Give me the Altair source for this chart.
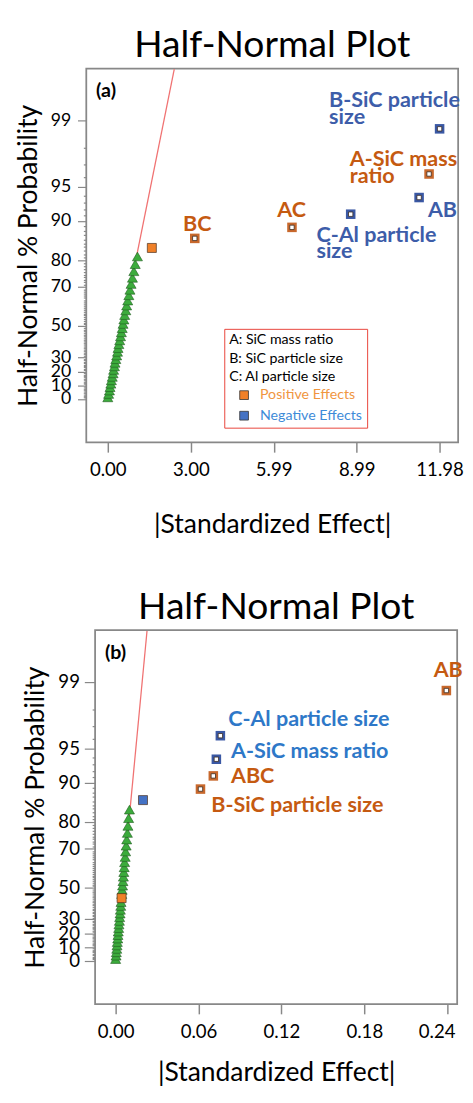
import altair as alt
import pandas as pd
from statistics import NormalDist

_nd = NormalDist()


def half_normal_z(percent):
    """Half-normal probability (in %) -> position on the half-normal probability axis."""
    return _nd.inv_cdf(0.5 + percent / 200.0)


FONT = "Lato"

# ---------------- panel (a) data ----------------
a_err_x = [0.00, 0.03, 0.06, 0.08, 0.11, 0.13, 0.16, 0.19, 0.21, 0.24, 0.26,
           0.29, 0.32, 0.35, 0.37, 0.40, 0.43, 0.46, 0.49, 0.52, 0.55, 0.58,
           0.61, 0.65, 0.68, 0.72, 0.76, 0.80, 0.84, 0.89, 0.94, 0.99, 1.07]
a_err_p = [1.25, 3.75, 6.25, 8.75, 11.25, 13.75, 16.25, 18.75, 21.25, 23.75, 26.25,
           28.75, 31.25, 33.75, 36.25, 38.75, 41.25, 43.75, 46.25, 48.75, 51.25, 53.75,
           56.25, 58.75, 61.25, 63.75, 66.25, 68.75, 71.25, 73.75, 76.25, 78.75, 81.25]
a_small_x = [1.59]
a_small_p = [83.75]
a_small_sign = ["Positive Effects"]
a_terms = ["BC", "AC", "C", "AB", "A", "B"]
a_terms_x = [3.14, 6.65, 8.77, 11.24, 11.60, 11.98]
a_terms_p = [86.25, 88.75, 91.25, 93.75, 96.25, 98.75]
a_terms_sign = ["Positive Effects", "Positive Effects", "Negative Effects",
                "Negative Effects", "Positive Effects", "Negative Effects"]
a_terms_label = ["BC", "AC", "C-Al particle\nsize", "AB", "A-SiC mass\nratio", "B-SiC particle\nsize"]
a_line_x = [0.0, 2.40]
a_line_p = [0.0, 99.77]
a_x_ticks = [0.00, 3.00, 5.99, 8.99, 11.98]

# ---------------- panel (b) data ----------------
b_err_x = [0.0000, 0.0003, 0.0005, 0.0008, 0.0010, 0.0012, 0.0015, 0.0017, 0.0019,
           0.0022, 0.0024, 0.0027, 0.0029, 0.0032, 0.0034, 0.0037, 0.0039,
           0.0044, 0.0047, 0.0050, 0.0053, 0.0056, 0.0059, 0.0062, 0.0065,
           0.0069, 0.0072, 0.0076, 0.0080, 0.0085, 0.0089, 0.0094, 0.0100]
b_err_p = [1.25, 3.75, 6.25, 8.75, 11.25, 13.75, 16.25, 18.75, 21.25,
           23.75, 26.25, 28.75, 31.25, 33.75, 36.25, 38.75, 41.25,
           46.25, 48.75, 51.25, 53.75, 56.25, 58.75, 61.25, 63.75,
           66.25, 68.75, 71.25, 73.75, 76.25, 78.75, 81.25, 83.75]
b_small_x = [0.0043, 0.0198]
b_small_p = [43.75, 86.25]
b_small_sign = ["Positive Effects", "Negative Effects"]
b_terms = ["B", "ABC", "A", "C", "AB"]
b_terms_x = [0.0614, 0.0707, 0.0729, 0.0758, 0.2394]
b_terms_p = [88.75, 91.25, 93.75, 96.25, 98.75]
b_terms_sign = ["Positive Effects", "Positive Effects", "Negative Effects",
                "Negative Effects", "Positive Effects"]
b_terms_label = ["B-SiC particle size", "ABC", "A-SiC mass ratio", "C-Al particle size", "AB"]
b_line_x = [0.0, 0.0227]
b_line_p = [0.0, 99.77]
b_x_ticks = [0.00, 0.06, 0.12, 0.18, 0.24]

# ---------------- shared axis / legend texts ----------------
y_major = [0, 10, 20, 30, 50, 70, 80, 90, 95, 99]
y_minor = list(range(0, 100))
legend_title = ["A: SiC mass ratio",
                "B: SiC particle size" + "\u00a0" * 15,
                "C: Al particle size"]
signs = ["Positive Effects", "Negative Effects"]

# ---------------- styles ----------------
RED = "#f07272"
GREEN = "#3cab3c"
GREEN_EDGE = "#1d5a1d"
FILL_COLORS = ["#f08028", "#4472c4"]
OPEN_COLORS = ["#c8682c", "#3a58a4"]
TEXT_OR = "#c55a11"
FRAME = "#888888"

a_label_off = {"BC": (-12, -8), "AC": (-15, -11), "C": (-35, 28), "AB": (9, 20),
               "A": (-81, -8), "B": (-113, -22)}
b_label_off = {"B": (11, 23), "ABC": (18, 7), "A": (15, -1), "C": (8, -10), "AB": (-13, -14)}

P_EXPR = "round(200*cumulativeNormal(datum.value)-100)"
TICK_TEST = "(" + " || ".join(f"{P_EXPR} == {v}" for v in y_major) + ")"


def panel(tag, err_x, err_p, small_x, small_p, small_sign, terms, terms_x, terms_p,
          terms_sign, terms_label, line_x, line_p, x_ticks, x_domain, width,
          label_off, blue_text, legend_xy, ystyle, x_title_pad, x_flush):
    y_label_size, major_tick, y_label_pad, y_title_pad = ystyle
    y_enc = alt.Y(
        "z:Q",
        scale=alt.Scale(domain=[-0.40, 3.055], nice=False, zero=False),
        axis=alt.Axis(
            title="Half-Normal % Probability", values=[half_normal_z(v) for v in y_minor],
            labelExpr=TICK_TEST + " ? '' + " + P_EXPR + " : ''",
            tickSize={"condition": {"test": TICK_TEST, "value": major_tick}, "value": 3},
            tickColor=FRAME, tickWidth=1.2, domain=False, grid=False,
            labelOverlap=False, labelBound=False, labelFlush=False,
            labelFont=FONT, labelFontSize=y_label_size, labelColor="black",
            labelPadding=y_label_pad,
            titleFont=FONT, titleFontSize=27, titleFontWeight="normal", titleColor="black",
            titlePadding=y_title_pad,
        ),
    )
    x_enc = alt.X(
        "x:Q",
        scale=alt.Scale(domain=x_domain, nice=False, zero=False),
        axis=alt.Axis(
            title="|Standardized Effect|", values=x_ticks, format=".2f",
            tickSize=10, tickColor=FRAME, tickWidth=1.5, domain=False, grid=False,
            labelFlush=x_flush, labelFlushOffset=8, labelOverlap=False,
            labelFont=FONT, labelFontSize=19, labelColor="black", labelPadding=9,
            titleFont=FONT, titleFontSize=27, titleFontWeight="normal", titleColor="black",
            titlePadding=x_title_pad,
        ),
    )

    line_df = pd.DataFrame({"x": line_x, "z": [half_normal_z(p) for p in line_p]})
    err_df = pd.DataFrame({"x": err_x, "z": [half_normal_z(p) for p in err_p]})
    small_df = pd.DataFrame({"x": small_x, "z": [half_normal_z(p) for p in small_p],
                             "sign": small_sign})
    term_df = pd.DataFrame({"term": terms, "x": terms_x,
                            "z": [half_normal_z(p) for p in terms_p],
                            "sign": terms_sign, "label": terms_label})

    line = alt.Chart(line_df).mark_line(color=RED, strokeWidth=1.3).encode(x=x_enc, y=y_enc)
    tri = alt.Chart(err_df).mark_point(
        shape="triangle-up", filled=True, fill=GREEN, stroke=GREEN_EDGE, strokeWidth=0.6,
        size=105, opacity=1,
    ).encode(x=x_enc, y=y_enc)
    small = alt.Chart(small_df).mark_square(
        size=85, stroke="#4a3020", strokeWidth=0.7, opacity=1,
    ).encode(
        x=x_enc, y=y_enc,
        color=alt.Color(
            "sign:N", scale=alt.Scale(domain=signs, range=FILL_COLORS),
            legend=alt.Legend(
                title=legend_title, orient="none", legendX=legend_xy[0], legendY=legend_xy[1],
                strokeColor="#e8443a", fillColor="white", padding=5,
                titleFont=FONT, titleFontSize=14.5, titleFontWeight="normal", titleColor="black",
                titleLineHeight=18.5, titlePadding=4, titleLimit=400,
                labelFont=FONT, labelFontSize=14.5, labelOffset=9,
                labelColor=alt.ExprRef("datum.value == 'Positive Effects' ? '#f0963f' : '#3e8bd8'"),
                symbolType="square", symbolSize=80, symbolStrokeColor="#333333",
                symbolStrokeWidth=0.8, symbolOffset=8, rowPadding=6,
            ),
        ),
    )
    outer = alt.Chart(term_df).mark_square(size=95, opacity=1).encode(
        x=x_enc, y=y_enc,
        fill=alt.Fill("sign:N", scale=alt.Scale(domain=signs, range=OPEN_COLORS), legend=None),
    )
    inner = alt.Chart(term_df).mark_square(
        size=20, fill="white", stroke="#3a2a20", strokeWidth=0.8, opacity=1,
    ).encode(x=x_enc, y=y_enc)

    layers = [line, tri, small, outer, inner]
    for t, s in zip(terms, terms_sign):
        dx, dy = label_off[t]
        layers.append(
            alt.Chart(term_df).transform_filter(alt.datum.term == t).mark_text(
                align="left", baseline="alphabetic", dx=dx, dy=dy, font=FONT,
                fontWeight="bold", fontSize=22, lineHeight=17, lineBreak="\n",
                color=TEXT_OR if s == "Positive Effects" else blue_text,
            ).encode(x=x_enc, y=y_enc, text="label:N")
        )
    layers.append(
        alt.Chart(pd.DataFrame({"t": [tag]})).mark_text(
            align="left", baseline="alphabetic", font=FONT, fontWeight="bold",
            fontSize=20, color="black",
        ).encode(x=alt.value(10), y=alt.value(29), text="t:N")
    )
    return alt.layer(*layers).properties(
        width=width, height=382,
        view=alt.ViewBackground(stroke=FRAME, strokeWidth=1.8),
        title=alt.TitleParams(
            "Half-Normal Plot", font=FONT, fontSize=38, fontWeight="normal", color="black",
            anchor="middle", frame="group", offset=2,
        ),
    )


def spacer():
    # invisible 1px cell used only to set the left inset of a panel
    return alt.Chart(pd.DataFrame({"v": [0]})).mark_point(size=0, opacity=0).encode(
        x=alt.value(0), y=alt.value(0)
    ).properties(width=1, height=1, view=alt.ViewBackground(stroke="transparent"))


pa = panel("(a)", a_err_x, a_err_p, a_small_x, a_small_p, a_small_sign, a_terms, a_terms_x,
           a_terms_p, a_terms_sign, a_terms_label, a_line_x, a_line_p, a_x_ticks,
           [-0.777, 12.65], 380, a_label_off, "#3d5da9", (220, 266),
           (18, 9, 7, 8), 33, False)
pb = panel("(b)", b_err_x, b_err_p, b_small_x, b_small_p, b_small_sign, b_terms, b_terms_x,
           b_terms_p, b_terms_sign, b_terms_label, b_line_x, b_line_p, b_x_ticks,
           [-0.01488, 0.24722], 370, b_label_off, "#2e78c8", (221, 266),
           (19, 11, 5, 9), 19, 15)

row_a = alt.HConcatChart(hconcat=[spacer(), pa], spacing=3)
row_b = alt.HConcatChart(hconcat=[spacer(), pb], spacing=10)

chart = alt.VConcatChart(vconcat=[row_a, row_b], spacing=51).properties(
    padding={"left": 0, "top": 7, "right": 0, "bottom": -6},
    background="white",
).configure_view(stroke=FRAME, strokeWidth=1.8)

chart.save("out.html", embed_options={"renderer": "svg", "actions": False})
